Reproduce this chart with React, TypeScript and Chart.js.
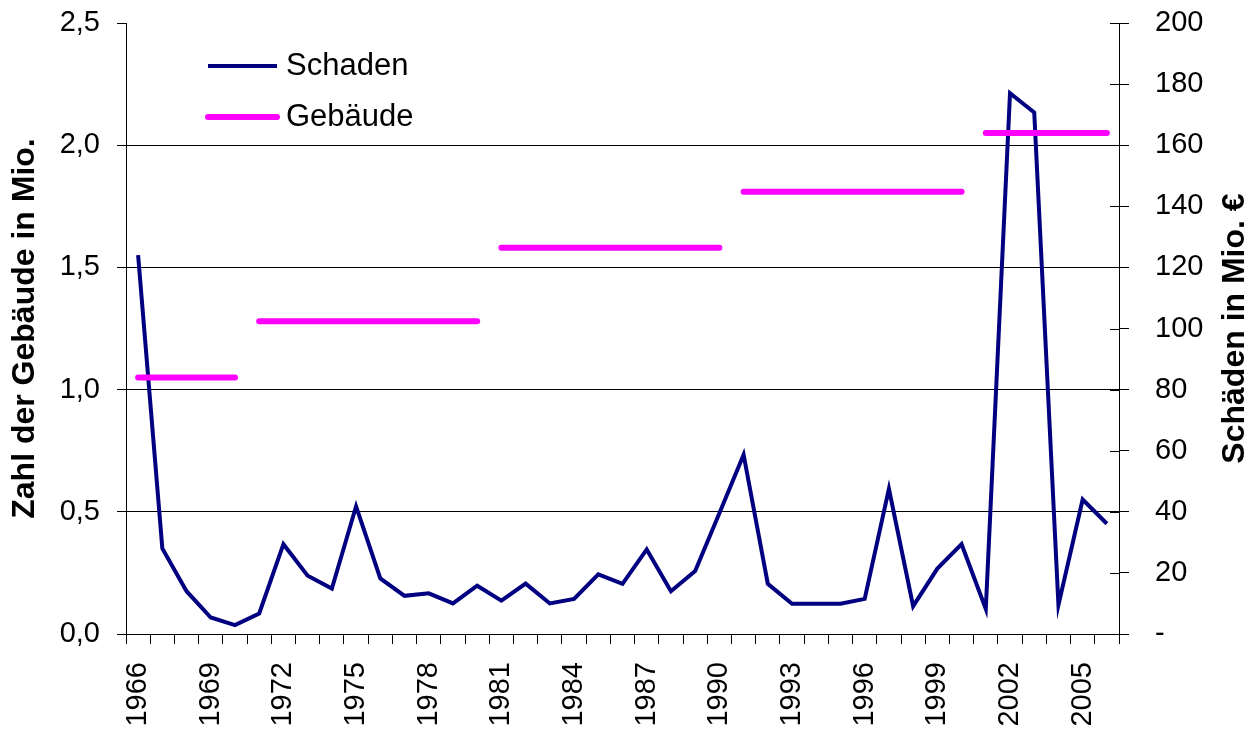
import React, { useEffect, useRef } from "react";
import { Chart, registerables } from "chart.js";

Chart.register(...registerables);

const years = [
  "1966", "1967", "1968", "1969", "1970", "1971", "1972", "1973", "1974", "1975",
  "1976", "1977", "1978", "1979", "1980", "1981", "1982", "1983", "1984", "1985",
  "1986", "1987", "1988", "1989", "1990", "1991", "1992", "1993", "1994", "1995",
  "1996", "1997", "1998", "1999", "2000", "2001", "2002", "2003", "2004", "2005",
  "2006",
];

// Schäden in Mio. € (right axis)
const schaden = [
  124, 28, 14, 5.4, 2.9, 6.7, 29.4, 19.1, 14.9, 41.8,
  18.2, 12.5, 13.3, 10.0, 15.8, 10.9, 16.5, 10.0, 11.5, 19.5,
  16.4, 27.7, 14.0, 20.6, 39.5, 58.7, 16.4, 9.9, 9.9, 9.9,
  11.5, 47.5, 9.1, 21.4, 29.4, 8.2, 177, 170.7, 9.5, 44,
  36.1,
];

// Zahl der Gebäude in Mio. (left axis), constant per decade block
const gebaeude = [
  1.05, 1.05, 1.05, 1.05, 1.05,
  1.28, 1.28, 1.28, 1.28, 1.28, 1.28, 1.28, 1.28, 1.28, 1.28,
  1.58, 1.58, 1.58, 1.58, 1.58, 1.58, 1.58, 1.58, 1.58, 1.58,
  1.81, 1.81, 1.81, 1.81, 1.81, 1.81, 1.81, 1.81, 1.81, 1.81,
  2.05, 2.05, 2.05, 2.05, 2.05, 2.05,
];

const leftTicks = [0, 0.5, 1, 1.5, 2, 2.5];
const rightTicks = [0, 20, 40, 60, 80, 100, 120, 140, 160, 180, 200];
const labelEvery = 3;

const seriesNames = ["Schaden", "Gebäude"];
const leftTitle = "Zahl der Gebäude in Mio.";
const rightTitle = "Schäden in Mio. €";

const FONT = "'Liberation Sans', Arial, Helvetica, sans-serif";
const NAVY = "#000080";
const MAGENTA = "#FF00FF";

const noPad = (s: any) => {
  s.paddingTop = 0;
  s.paddingBottom = 0;
  s.paddingLeft = 0;
  s.paddingRight = 0;
};

const extrasPlugin = {
  id: "extras",
  afterDraw(chart: any) {
    const { ctx, chartArea, scales } = chart;
    ctx.save();
    // inner half of right-axis tick marks
    const y1 = scales.y1;
    ctx.strokeStyle = "#000";
    ctx.lineWidth = 1;
    y1.ticks.forEach((t: any) => {
      const y = Math.round(y1.getPixelForValue(t.value)) + 0.5;
      ctx.beginPath();
      ctx.moveTo(chartArea.right - 9, y);
      ctx.lineTo(chartArea.right, y);
      ctx.stroke();
    });

    // right axis title, reading bottom to top
    ctx.save();
    ctx.translate(1235, (chartArea.top + chartArea.bottom) / 2);
    ctx.rotate(-Math.PI / 2);
    ctx.font = `bold 32px ${FONT}`;
    ctx.fillStyle = "#000";
    ctx.textAlign = "center";
    ctx.textBaseline = "middle";
    ctx.fillText(rightTitle, 0, 0);
    ctx.restore();

    // legend inside plot area
    const rows = [
      { ds: chart.data.datasets[0], y: 66 },
      { ds: chart.data.datasets[1], y: 117 },
    ];
    rows.forEach((r) => {
      ctx.beginPath();
      ctx.strokeStyle = r.ds.borderColor;
      ctx.lineWidth = r.ds.borderWidth;
      ctx.lineCap = r.ds.borderCapStyle || "butt";
      ctx.moveTo(208, r.y);
      ctx.lineTo(277, r.y);
      ctx.stroke();
      ctx.font = `31px ${FONT}`;
      ctx.fillStyle = "#000";
      ctx.textAlign = "left";
      ctx.textBaseline = "middle";
      ctx.fillText(r.ds.label, 286, r.y);
    });
    ctx.restore();
  },
};

export default function App() {
  const ref = useRef<HTMLCanvasElement | null>(null);

  useEffect(() => {
    if (!ref.current) return;
    const chart = new Chart(ref.current, {
      type: "line",
      data: {
        labels: years,
        datasets: [
          {
            label: seriesNames[0],
            data: schaden,
            yAxisID: "y1",
            borderColor: NAVY,
            backgroundColor: NAVY,
            borderWidth: 4,
            pointRadius: 0,
            tension: 0,
            borderJoinStyle: "miter",
            order: 1,
          },
          {
            label: seriesNames[1],
            data: gebaeude,
            yAxisID: "y",
            borderColor: MAGENTA,
            backgroundColor: MAGENTA,
            borderWidth: 6,
            borderCapStyle: "round",
            pointRadius: 0,
            tension: 0,
            order: 0,
            segment: {
              borderColor: (c: any) =>
                c.p0.parsed.y !== c.p1.parsed.y ? "rgba(0,0,0,0)" : undefined,
            },
          },
        ],
      },
      options: {
        animation: false,
        responsive: false,
        layout: { padding: { top: 23, left: 0, right: 0, bottom: 0 } },
        plugins: {
          legend: { display: false },
          tooltip: { enabled: false },
        },
        scales: {
          x: {
            type: "category",
            offset: true,
            grid: {
              offset: true,
              drawOnChartArea: false,
              tickLength: 10,
              color: "#000",
              tickColor: "#000",
            },
            border: { color: "#000", width: 1 },
            ticks: {
              autoSkip: false,
              minRotation: 90,
              maxRotation: 90,
              padding: 18,
              color: "#000",
              font: { family: FONT, size: 29 },
              callback: (_v: any, i: number) => (i % labelEvery === 0 ? years[i] : ""),
            },
            afterFit: (s: any) => {
              s.height = 98;
              noPad(s);
            },
          },
          y: {
            position: "left",
            min: leftTicks[0],
            max: leftTicks[leftTicks.length - 1],
            afterBuildTicks: (s: any) => {
              s.ticks = leftTicks.map((v) => ({ value: v }));
            },
            grid: {
              color: (c: any) =>
                c.tick && c.tick.value === leftTicks[leftTicks.length - 1] ? "rgba(0,0,0,0)" : "#000",
              tickColor: "#000",
              tickLength: 9,
            },
            border: { color: "#000", width: 1 },
            ticks: {
              padding: 17,
              color: "#000",
              font: { family: FONT, size: 29 },
              callback: (v: any) => Number(v).toFixed(1).replace(".", ","),
            },
            title: {
              display: true,
              text: leftTitle,
              color: "#000",
              font: { family: FONT, size: 32, weight: "bold" },
              padding: { top: 6, bottom: 0 },
            },
            afterFit: (s: any) => {
              s.width = 126;
              noPad(s);
            },
          },
          y1: {
            position: "right",
            min: rightTicks[0],
            max: rightTicks[rightTicks.length - 1],
            afterBuildTicks: (s: any) => {
              s.ticks = rightTicks.map((v) => ({ value: v }));
            },
            grid: {
              drawOnChartArea: false,
              tickLength: 10,
              color: "#000",
              tickColor: "#000",
            },
            border: { color: "#000", width: 1 },
            ticks: {
              padding: 26,
              color: "#000",
              font: { family: FONT, size: 29 },
              callback: (v: any) => (Number(v) === 0 ? "-" : String(v)),
            },
            afterFit: (s: any) => {
              s.width = 130;
              noPad(s);
            },
          },
        },
      } as any,
      plugins: [extrasPlugin],
    });
    return () => chart.destroy();
  }, []);

  return (
    <canvas
      ref={ref}
      width={1249}
      height={732}
      style={{ position: "fixed", left: 0, top: 0, width: 1249, height: 732, display: "block", background: "#fff" }}
    />
  );
}
